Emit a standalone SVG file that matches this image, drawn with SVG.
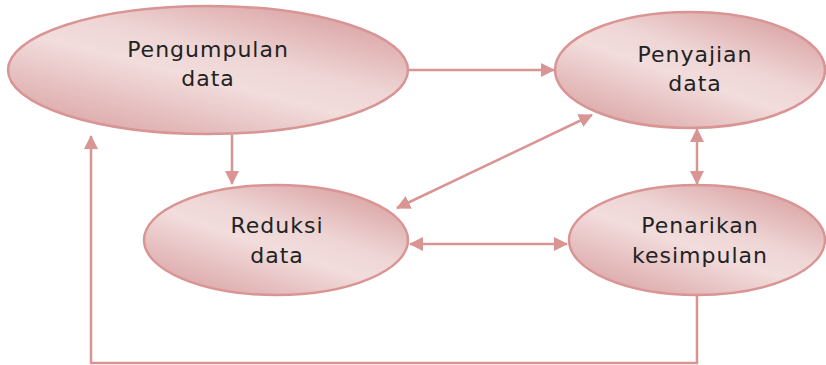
<svg xmlns="http://www.w3.org/2000/svg" width="826" height="365" viewBox="0 0 826 365">
<defs>
<linearGradient id="g" x1="0.1" y1="1" x2="0.9" y2="0">
<stop offset="0" stop-color="#d9a0a1"/>
<stop offset="0.45" stop-color="#f2dcdc"/>
<stop offset="0.6" stop-color="#efd6d6"/>
<stop offset="1" stop-color="#d79a9b"/>
</linearGradient>
<marker id="ah" viewBox="0 0 14 14" refX="13" refY="7" markerWidth="14" markerHeight="14" markerUnits="userSpaceOnUse" orient="auto-start-reverse">
<path d="M0,0 L14,7 L0,14 Z" fill="#d99594"/>
</marker>
<style>
.n{fill:url(#g);stroke:#d99594;stroke-width:2.5}
.t{font-family:"DejaVu Sans","Liberation Sans",sans-serif;font-size:22px;letter-spacing:1px;fill:#222;text-anchor:middle}
.c{fill:none;stroke:#d99594;stroke-width:2.5}
</style>
</defs>
<g id="connectors">
<line class="c" x1="409" y1="70" x2="554" y2="70" marker-end="url(#ah)"/>
<line class="c" x1="232" y1="135" x2="232" y2="184" marker-end="url(#ah)"/>
<line class="c" x1="592" y1="115" x2="397" y2="208" marker-start="url(#ah)" marker-end="url(#ah)"/>
<line class="c" x1="697" y1="129" x2="697" y2="184" marker-start="url(#ah)" marker-end="url(#ah)"/>
<line class="c" x1="410" y1="244" x2="567" y2="244" marker-start="url(#ah)" marker-end="url(#ah)"/>
<polyline class="c" points="697,296 697,363 91,363 91,136" marker-end="url(#ah)"/>
</g>
<g id="pengumpulan">
<ellipse class="n" cx="208" cy="70" rx="200" ry="64"/>
<text class="t" x="208" y="57">Pengumpulan</text>
<text class="t" x="208" y="86">data</text>
</g>
<g id="penyajian">
<ellipse class="n" cx="690" cy="70" rx="135" ry="58"/>
<text class="t" x="695" y="62">Penyajian</text>
<text class="t" x="695" y="91">data</text>
</g>
<g id="reduksi">
<ellipse class="n" cx="276" cy="240" rx="132" ry="55"/>
<text class="t" x="277" y="233">Reduksi</text>
<text class="t" x="277" y="263">data</text>
</g>
<g id="penarikan">
<ellipse class="n" cx="697" cy="240" rx="128" ry="55"/>
<text class="t" x="700" y="233">Penarikan</text>
<text class="t" x="700" y="263">kesimpulan</text>
</g>
</svg>
